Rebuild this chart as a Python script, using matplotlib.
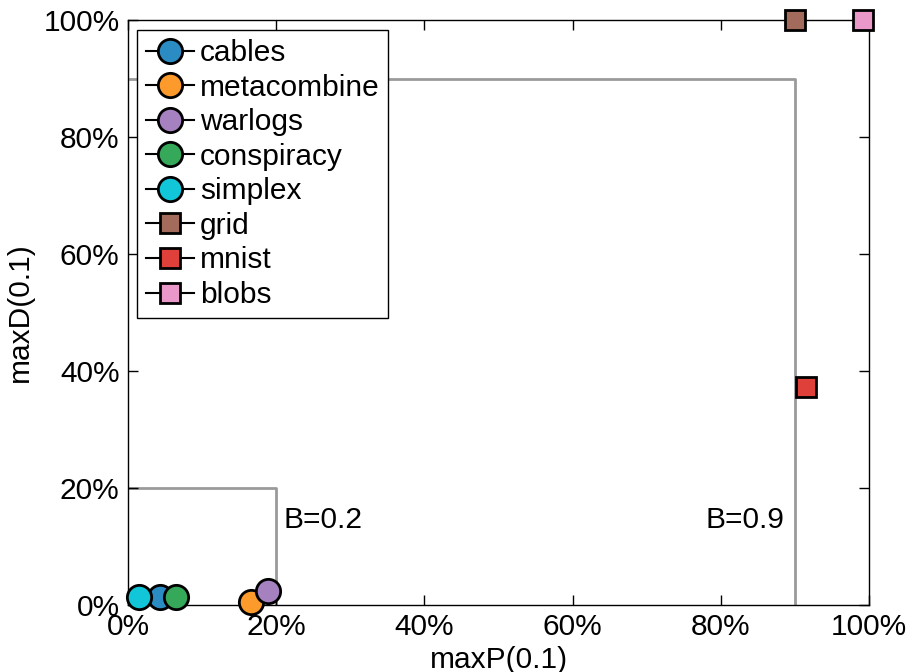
import matplotlib
matplotlib.use("Agg")
from matplotlib import pyplot as plt
from matplotlib.ticker import FuncFormatter

plt.rcParams['font.family'] = ['Liberation Sans', 'DejaVu Sans']

# data
names = ["cables", "metacombine", "warlogs", "conspiracy", "simplex",
         "grid", "mnist", "blobs"]
max_p = [0.043, 0.166, 0.189, 0.065, 0.015, 0.900, 0.915, 0.992]
max_d = [0.014, 0.005, 0.024, 0.014, 0.014, 1.000, 0.373, 1.000]
markers = ["o", "o", "o", "o", "o", "s", "s", "s"]
colors = ["#2b8cc4", "#fd9a2c", "#a681c0", "#36a85a", "#11c6d8",
          "#a26b5c", "#e0403a", "#ea98c9"]

budgets = [0.2, 0.9]
budget_labels = ["B=0.2", "B=0.9"]

fs = 21.5

fig = plt.figure(figsize=(9.1, 6.72), dpi=100)
ax = fig.add_axes([0.1407, 0.0997, 0.8143, 0.8703])

# budget boxes
for b in budgets:
    ax.plot([0, b, b], [b, b, 0], color="#9a9a9a", lw=2, zorder=1)
ax.text(budgets[0] + 0.01, 0.145, budget_labels[0], fontsize=fs,
        ha="left", va="center")
ax.text(budgets[1] - 0.014, 0.145, budget_labels[1], fontsize=fs,
        ha="right", va="center")

# points, plotted so that the legend shows a line through the marker
for i in range(len(names)):
    ms = 17.5 if markers[i] == "o" else 14.5
    ax.plot(max_p[i], max_d[i], marker=markers[i], ls="-", color="black",
            lw=1.5, markerfacecolor=colors[i], markeredgecolor="black",
            markeredgewidth=2, markersize=ms, label=names[i],
            clip_on=False, zorder=3)

ax.set_xlim(0, 1)
ax.set_ylim(0, 1)
ticks = [0, 0.2, 0.4, 0.6, 0.8, 1.0]
ax.set_xticks(ticks)
ax.set_yticks(ticks)
pct = FuncFormatter(lambda v, pos: "%d%%" % round(v * 100))
ax.xaxis.set_major_formatter(pct)
ax.yaxis.set_major_formatter(pct)
ax.tick_params(direction="in", length=7, width=1, top=True, right=True,
               labelsize=fs)
ax.tick_params(axis="x", pad=6)
ax.tick_params(axis="y", pad=6)
for s in ax.spines.values():
    s.set_linewidth(1)

ax.set_xlabel("maxP(0.1)", fontsize=fs, labelpad=3)
ax.set_ylabel("maxD(0.1)", fontsize=fs, labelpad=7)

leg = ax.legend(loc="upper left", fontsize=fs, handlelength=1.6,
                handletextpad=0.2, labelspacing=0.22, borderpad=0.3,
                borderaxespad=0, fancybox=False, framealpha=1,
                edgecolor="black", bbox_to_anchor=(0.012, 0.983))
leg.get_frame().set_linewidth(1)

fig.savefig("out.png", dpi=100)
